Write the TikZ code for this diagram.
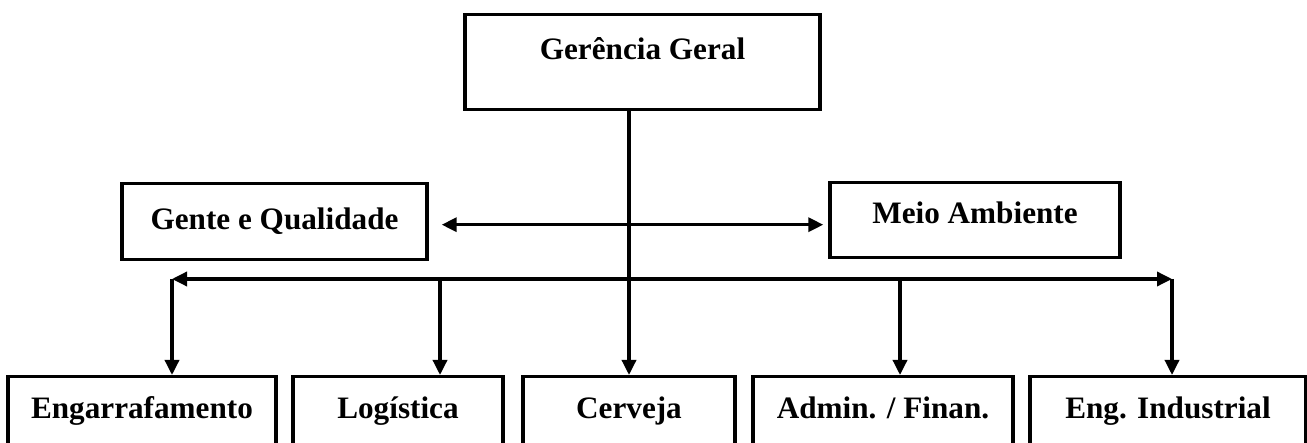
\documentclass[tikz,border=0pt]{standalone}
\usepackage{fontspec}
\setmainfont{Liberation Serif}
\usetikzlibrary{arrows.meta}
\begin{document}
\begin{tikzpicture}[x=0.5pt,y=-0.5pt,
  box/.style={draw, line width=1.7pt, inner sep=0pt, anchor=north,
    font=\fontsize{15.6}{18}\selectfont\bfseries},
  unit/.style={box, text height=21pt, text depth=26.5pt},
  link/.style={line width=1.7pt},
  tip/.style={link, -{Triangle[length=7.5pt,width=7pt]}},
  twotip/.style={link, {Triangle[length=7.5pt,width=7pt]}-{Triangle[length=7.5pt,width=7pt]}}]
\useasboundingbox (0,0) rectangle (1307,443);
\clip (0,0) rectangle (1307,443);

% management and staff units
\node[box, minimum width=177.5pt, text height=22.5pt, text depth=25pt] (gg) at (642.5,13) {Gerência Geral};
\node[box, minimum width=152.5pt, text height=23pt, text depth=15pt] (gq) at (274.5,182) {Gente e Qualidade};
\node[box, minimum width=145pt, text height=20.5pt, text depth=17pt] (ma) at (975,181) {Meio Ambiente};

% operating units (bottom row)
\node[unit, minimum width=134pt] (eng) at (142,375) {Engarrafamento};
\node[unit, minimum width=105pt] (log) at (398,375) {Logística};
\node[unit, minimum width=106pt] (cer) at (629,375) {Cerveja};
\node[unit, minimum width=130pt] (adm) at (883,375) {Admin. / Finan.};
\node[unit, minimum width=138pt] (ind) at (1168,375) {Eng. Industrial};

% main vertical line
\draw[tip] (gg.south -| cer.north) -- (cer.north);

% link between the two staff units
\path (gq.east) ++(13,3) coordinate (qa);
\path (ma.west) ++(-5,4.5) coordinate (mb);
\draw[twotip] (qa) -- (qa -| mb);

% distribution bus and drops
\coordinate (bl) at (172,279);
\coordinate (br) at (1172,279);
\coordinate (dlog) at (440,279);
\coordinate (dadm) at (900,279);
\draw[twotip] (bl) -- (br);
\draw[tip] (bl) -- (bl |- eng.north);
\draw[tip] (dlog) -- (dlog |- log.north);
\draw[tip] (dadm) -- (dadm |- adm.north);
\draw[tip] (br) -- (br |- ind.north);
\end{tikzpicture}
\end{document}
